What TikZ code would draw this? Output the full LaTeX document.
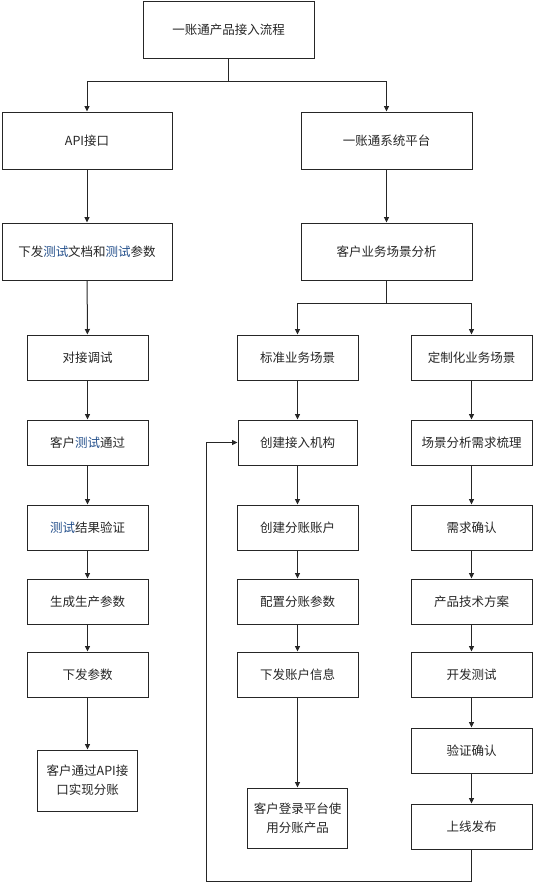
\documentclass[tikz,border=0pt]{standalone}
\usepackage{fontspec}
\usepackage{tikz}
\usepackage{xcolor}
\usetikzlibrary{arrows.meta,positioning}
\newfontfamily\cjk{Noto Sans CJK SC}
\definecolor{fkink}{HTML}{262626}
\definecolor{fkblue}{HTML}{24508C}
\newcommand{\fkcs}{{\color{fkblue}测试}}
\tikzset{
  flowBox/.style={draw=fkink, line width=1pt, fill=white, text=fkink, align=center, inner sep=0pt,
    minimum width=121pt, minimum height=45pt, font=\cjk\fontsize{12.5}{19}\selectfont},
  wideBox/.style={flowBox, minimum width=170pt, minimum height=57pt},
  endBox/.style={flowBox, minimum width=100pt, minimum height=60pt},
  flowArrow/.style={-{Triangle[length=5.5pt,width=5pt]}, line width=1pt, draw=fkink},
  flowLine/.style={line width=1pt, draw=fkink}
}

\begin{document}
\begin{tikzpicture}[x=1pt, y=1pt, node distance=39pt]
  \useasboundingbox (0,0) rectangle (533,-887);
  % top level
  \node[wideBox, minimum width=171pt] (title) at (228.5,-29.5) {一账通产品接入流程};
  \node[wideBox] (api) at (87,-140.5) {API接口};
  \node[wideBox, minimum width=171pt] (sys) at (386.5,-140.5) {一账通系统平台};
  \node[wideBox, below=53pt of api] (doc) {下发\fkcs 文档和\fkcs 参数};
  \node[wideBox, minimum width=171pt, below=53pt of sys] (ana) {客户业务场景分析};

  % left column
  \node[flowBox] (dock) at (87.5,-357.5) {对接调试};
  \node[flowBox, below=of dock] (pass) {客户\fkcs 通过};
  \node[flowBox, below=of pass] (verify) {\fkcs 结果验证};
  \node[flowBox, below=28pt of verify] (gen) {生成生产参数};
  \node[flowBox, below=27pt of gen] (issue) {下发参数};
  \node[endBox, minimum height=61pt, below=52pt of issue] (impl) {客户通过API接\\口实现分账};

  % middle column
  \node[flowBox] (std) at (297.5,-357.5) {标准业务场景};
  \node[flowBox, minimum width=119pt, below=of std] (inst) {创建接入机构};
  \node[flowBox, below=of inst] (acct) {创建分账账户};
  \node[flowBox, below=28pt of acct] (conf) {配置分账参数};
  \node[flowBox, below=27pt of conf] (info) {下发账户信息};
  \node[endBox, below=90pt of info] (login) {客户登录平台使\\用分账产品};

  % right column
  \node[flowBox] (cus) at (471.5,-357.5) {定制化业务场景};
  \node[flowBox, below=of cus] (sort) {场景分析需求梳理};
  \node[flowBox, below=of sort] (need) {需求确认};
  \node[flowBox, below=28pt of need] (plan) {产品技术方案};
  \node[flowBox, below=27pt of plan] (dev) {开发测试};
  \node[flowBox, below=30pt of dev] (check) {验证确认};
  \node[flowBox, below=30pt of check] (launch) {上线发布};
  \coordinate (back) at (206,-881);

  \draw[flowArrow] (title.south) -- ++(0,-23) -| (api.north);
  \draw[flowArrow] (title.south) -- ++(0,-23) -| (sys.north);
  \draw[flowArrow] (api) -- (doc);
  \draw[flowArrow] (doc) -- (dock);
  \draw[flowArrow] (sys) -- (ana);
  \draw[flowArrow] (ana.south) -- ++(0,-23) -| (std.north);
  \draw[flowArrow] (ana.south) -- ++(0,-23) -| (cus.north);

  \draw[flowArrow] (dock) -- (pass);
  \draw[flowArrow] (pass) -- (verify);
  \draw[flowArrow] (verify) -- (gen);
  \draw[flowArrow] (gen) -- (issue);
  \draw[flowArrow] (issue) -- (impl);

  \draw[flowArrow] (std) -- (inst);
  \draw[flowArrow] (inst) -- (acct);
  \draw[flowArrow] (acct) -- (conf);
  \draw[flowArrow] (conf) -- (info);
  \draw[flowArrow] (info) -- (login);

  \draw[flowArrow] (cus) -- (sort);
  \draw[flowArrow] (sort) -- (need);
  \draw[flowArrow] (need) -- (plan);
  \draw[flowArrow] (plan) -- (dev);
  \draw[flowArrow] (dev) -- (check);
  \draw[flowArrow] (check) -- (launch);
  \draw[flowArrow] (launch.south) |- (back) |- (inst.west);
\end{tikzpicture}
\end{document}
